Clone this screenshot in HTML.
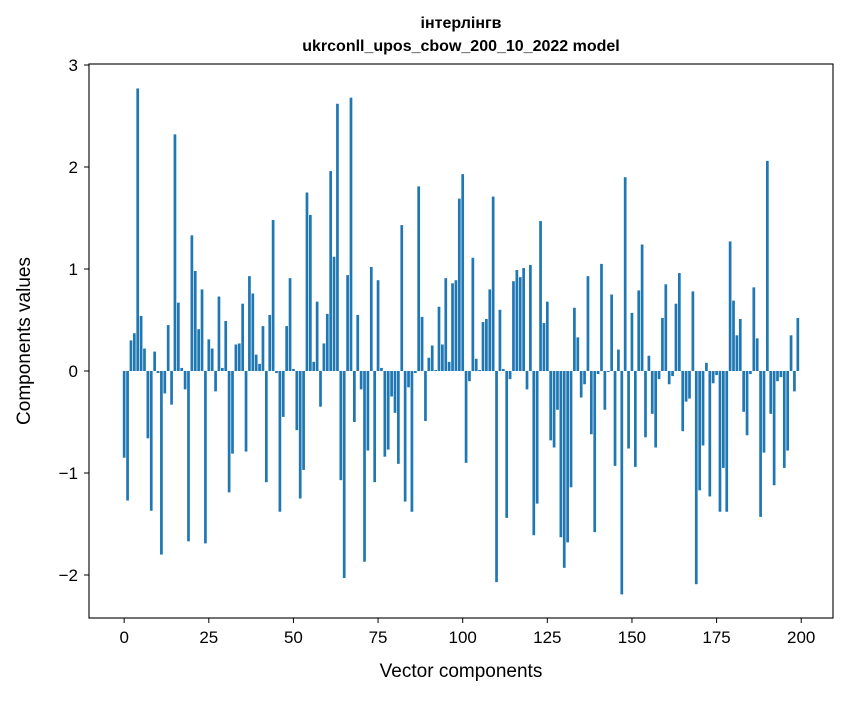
<!DOCTYPE html>
<html><head><meta charset="utf-8"><style>
body{margin:0;background:#fff;font-family:"Liberation Sans","DejaVu Sans",sans-serif}
svg text{font-family:"Liberation Sans","DejaVu Sans",sans-serif}
</style></head><body>
<svg id="chart" width="847" height="696" xmlns="http://www.w3.org/2000/svg">
<rect width="847" height="696" fill="#fff"/>
<text x="461" y="28" text-anchor="middle" font-size="16" font-weight="bold">інтерлінгв</text>
<text x="461" y="51" text-anchor="middle" font-size="16" font-weight="bold">ukrconll_upos_cbow_200_10_2022 model</text>
<g id="bars"></g>
<g id="axes"></g>
<rect x="89" y="64" width="744" height="554" fill="none" stroke="#000" stroke-width="1.1"/>
<text x="461" y="677" text-anchor="middle" font-size="19">Vector components</text>
<text transform="translate(30,341) rotate(-90)" text-anchor="middle" font-size="19">Components values</text>
</svg>
<script>
const values=[-0.85,-1.27,0.30,0.37,2.77,0.54,0.22,-0.66,-1.37,0.19,-0.02,-1.80,-0.22,0.45,-0.33,2.32,0.67,0.03,-0.18,-1.67,
1.33,0.98,0.41,0.80,-1.69,0.31,0.22,-0.20,0.73,0.03,0.49,-1.19,-0.81,0.26,0.27,0.66,-0.79,0.93,0.76,0.16,
0.07,0.44,-1.09,0.55,1.48,-0.02,-1.38,-0.45,0.44,0.91,0.02,-0.58,-1.25,-0.97,1.75,1.53,0.09,0.68,-0.35,0.27,
0.56,1.96,1.12,2.62,-1.07,-2.03,0.94,2.68,-0.50,0.55,-0.18,-1.87,-0.78,1.02,-1.09,0.89,0.03,-0.84,-0.77,-0.25,
-0.41,-0.91,1.43,-1.28,-0.16,-1.38,-0.02,1.81,0.53,-0.49,0.13,0.25,0.01,0.63,0.26,0.91,0.09,0.86,0.89,1.69,
1.93,-0.90,-0.10,1.11,0.12,0.01,0.48,0.51,0.80,1.71,-2.07,0.60,0.02,-1.44,-0.08,0.88,0.99,0.92,1.01,-0.18,
1.04,-1.61,-1.30,1.47,0.47,0.68,-0.68,-0.75,-0.38,-1.63,-1.93,-1.68,-1.14,0.62,0.33,-0.26,-0.13,0.93,-0.62,-1.58,
-0.03,1.05,-0.38,-0.01,0.75,-0.93,0.21,-2.19,1.90,-0.76,0.57,-0.94,0.79,1.24,-0.65,0.15,-0.42,-0.75,-0.08,0.52,
0.85,-0.13,-0.05,0.66,0.96,-0.59,-0.30,-0.27,0.78,-2.09,-1.17,-0.73,0.08,-1.23,-0.12,-0.04,-1.38,-0.95,-1.38,1.27,
0.69,0.35,0.51,-0.40,-0.63,-0.03,0.82,0.32,-1.43,-0.80,2.06,-0.42,-1.12,-0.10,-0.06,-0.95,-0.78,0.35,-0.20,0.52];
const xTicks=[0,25,50,75,100,125,150,175,200];
const yTicks=[-2,-1,0,1,2,3];
const X0=89,X1=833,xMin=-10.39,xMax=209.39;
const xs=v=>X0+(v-xMin)/(xMax-xMin)*(X1-X0);
const ys=v=>371-v*102;
const NS="http://www.w3.org/2000/svg";
const bars=document.getElementById('bars');
values.forEach((v,i)=>{
 const r=document.createElementNS(NS,'rect');
 const x=xs(i-0.4),w=xs(i+0.4)-xs(i-0.4);
 r.setAttribute('x',x);r.setAttribute('width',w);
 r.setAttribute('y',Math.min(ys(v),ys(0)));r.setAttribute('height',Math.abs(ys(v)-ys(0)));
 r.setAttribute('fill','#1f77b4');
 
 
 bars.appendChild(r);
});
const ax=document.getElementById('axes');
xTicks.forEach(t=>{
 const l=document.createElementNS(NS,'line');
 l.setAttribute('x1',xs(t));l.setAttribute('x2',xs(t));l.setAttribute('y1',618);l.setAttribute('y2',623);l.setAttribute('stroke','#000');
 
 
 ax.appendChild(l);
 const tx=document.createElementNS(NS,'text');
 tx.setAttribute('x',xs(t));tx.setAttribute('y',643);tx.setAttribute('text-anchor','middle');tx.setAttribute('font-size','17');
 tx.textContent=t;
 
 
 ax.appendChild(tx);
});
yTicks.forEach(t=>{
 const l=document.createElementNS(NS,'line');
 l.setAttribute('x1',84);l.setAttribute('x2',89);l.setAttribute('y1',ys(t));l.setAttribute('y2',ys(t));l.setAttribute('stroke','#000');
 
 
 ax.appendChild(l);
 const tx=document.createElementNS(NS,'text');
 tx.setAttribute('x',78);tx.setAttribute('y',ys(t)+6);tx.setAttribute('text-anchor','end');tx.setAttribute('font-size','17');
 tx.textContent=t<0?'\u2212'+Math.abs(t):String(t);
 
 
 ax.appendChild(tx);
});
</script>
</body></html>
